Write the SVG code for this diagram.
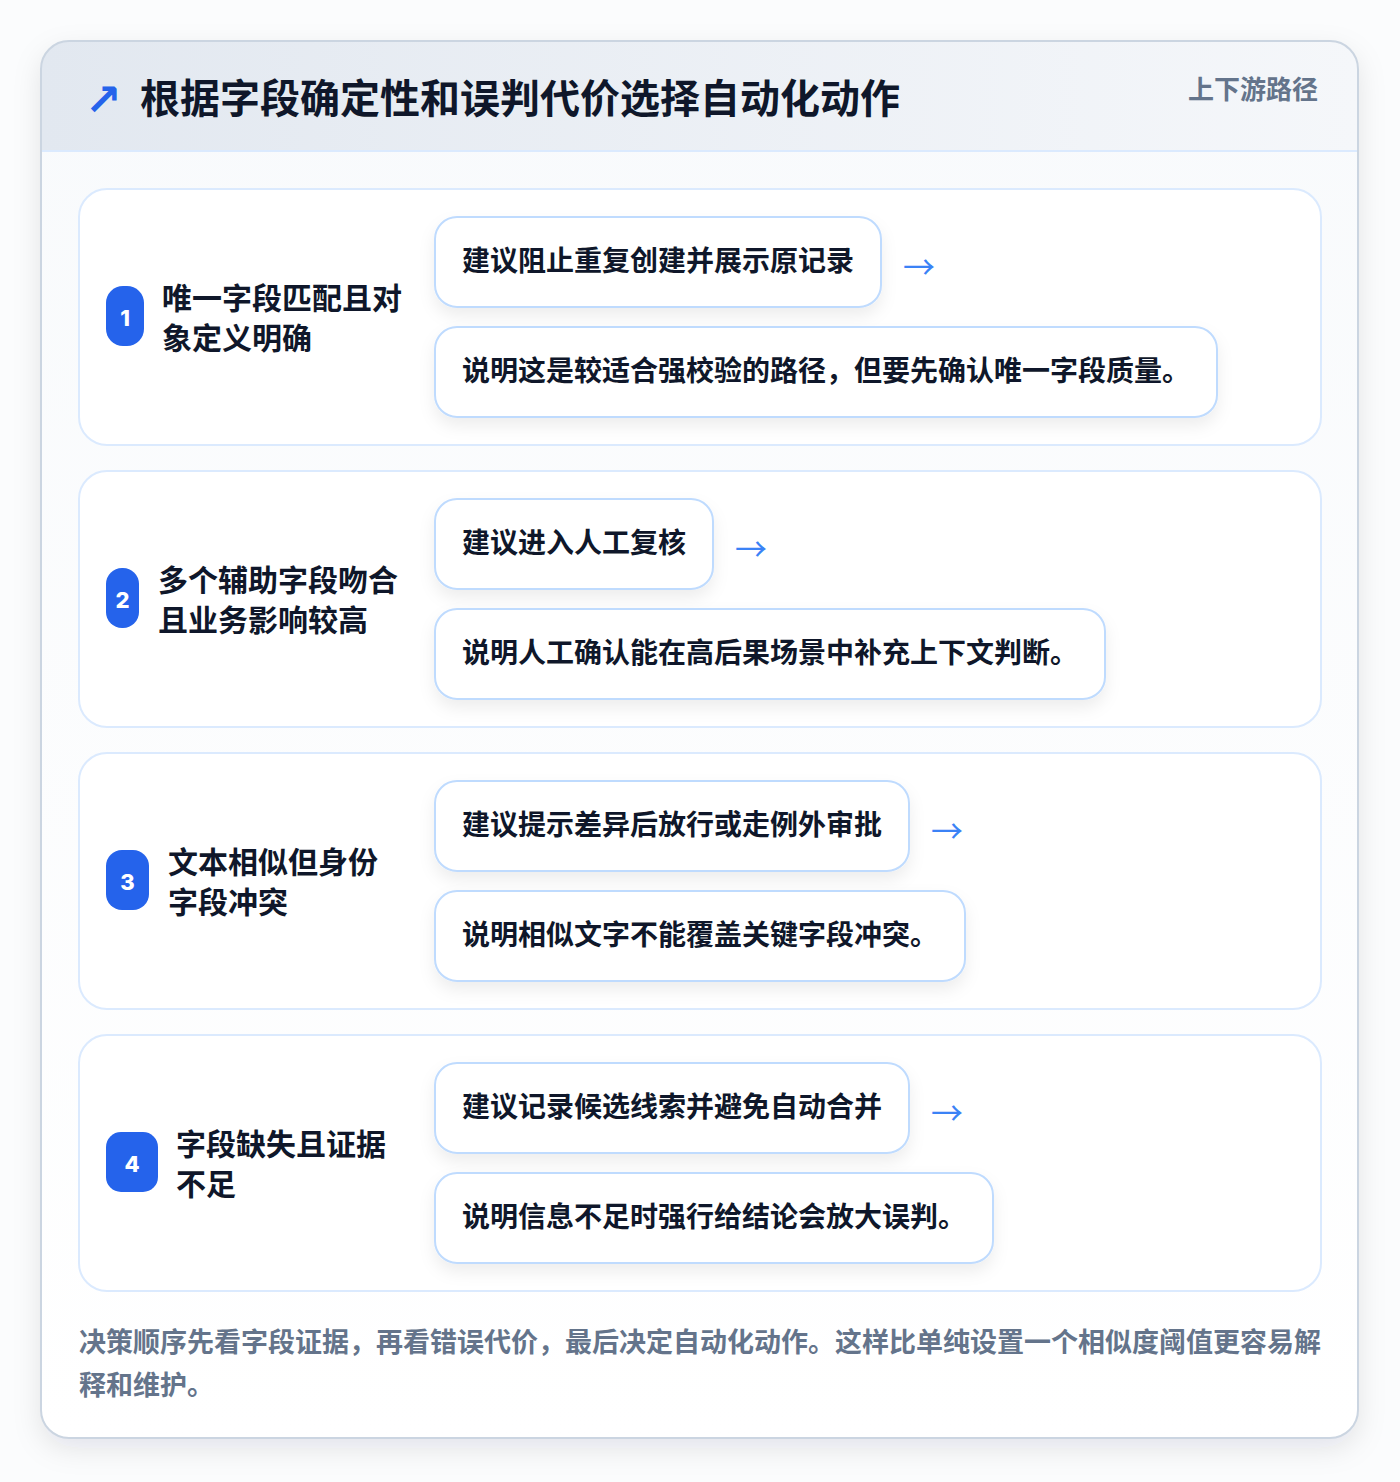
<svg xmlns="http://www.w3.org/2000/svg" width="1400" height="1482" viewBox="0 0 1400 1482">
<defs>
<linearGradient id="hdr" x1="0" y1="0" x2="1" y2="0">
<stop offset="0" stop-color="#e2e8f0"/>
<stop offset="1" stop-color="#f5f7fa"/>
</linearGradient>
<linearGradient id="body" x1="0" y1="0" x2="0" y2="1">
<stop offset="0" stop-color="#f8fafc"/>
<stop offset="1" stop-color="#ffffff"/>
</linearGradient>
<filter id="cardShadow" x="-10%" y="-10%" width="120%" height="120%">
<feDropShadow dx="0" dy="10" stdDeviation="14" flood-color="#0f172a" flood-opacity="0.10"/>
</filter>
<filter id="pillShadow" x="-10%" y="-30%" width="120%" height="170%">
<feDropShadow dx="0" dy="8" stdDeviation="8" flood-color="#0f172a" flood-opacity="0.07"/>
</filter>
<clipPath id="cardClip"><rect x="41" y="41" width="1317" height="1397" rx="28"/></clipPath>
</defs>
<style>
text { font-family: "Noto Sans CJK SC", "Noto Sans", sans-serif; font-weight: 700; }
.title { font-size: 40px; fill: #0f172a; }
.tag { font-size: 26px; fill: #64748b; }
.row { fill: #ffffff; stroke: #dbeafe; stroke-width: 2; }
.badge { fill: #2563eb; }
.num { font-size: 22px; fill: #ffffff; text-anchor: middle; font-family: "Inter", "Noto Sans", sans-serif; font-weight: 800; }
.lbl { font-size: 30px; fill: #0f172a; }
.pill { fill: #ffffff; stroke: #bfdbfe; stroke-width: 2; filter: url(#pillShadow); }
.ptxt { font-size: 28px; fill: #0f172a; }
.arrow { font-size: 32px; fill: #3b82f6; font-weight: 400; }
.foot { font-size: 27px; fill: #64748b; }
</style>
<rect x="0" y="0" width="1400" height="1482" fill="#fbfcfd"/>
<rect x="41" y="41" width="1317" height="1397" rx="28" fill="url(#body)" filter="url(#cardShadow)"/>
<g clip-path="url(#cardClip)">
<rect x="41" y="41" width="1317" height="110" fill="url(#hdr)"/>
<line x1="41" y1="151" x2="1358" y2="151" stroke="#dbeafe" stroke-width="2"/>
</g>
<rect x="41" y="41" width="1317" height="1397" rx="28" fill="none" stroke="#cbd5e1" stroke-width="2"/>
<g id="header">
<text x="85" y="115" font-size="44" fill="#2563eb" style="font-family:'DejaVu Sans',sans-serif;font-weight:700">↗</text>
<text class="title" x="140" y="113">根据字段确定性和误判代价选择自动化动作</text>
<text class="tag" x="1188" y="99">上下游路径</text>
</g>
<g id="row1">
<rect class="row" x="79" y="189" width="1242" height="256" rx="28"/>
<rect class="badge" x="106" y="286" width="38" height="60" rx="17"/>
<text class="num" x="125" y="326">1</text>
<text class="lbl" x="162" y="309">唯一字段匹配且对</text>
<text class="lbl" x="162" y="349">象定义明确</text>
<rect class="pill" x="435" y="217" width="446" height="90" rx="22"/>
<text class="ptxt" x="462" y="271">建议阻止重复创建并展示原记录</text>
<rect class="pill" x="435" y="327" width="782" height="90" rx="22"/>
<text class="ptxt" x="462" y="381">说明这是较适合强校验的路径，但要先确认唯一字段质量。</text>
</g>
<g id="row2">
<rect class="row" x="79" y="471" width="1242" height="256" rx="28"/>
<rect class="badge" x="106" y="568" width="33" height="60" rx="16"/>
<text class="num" x="122.5" y="608">2</text>
<text class="lbl" x="158" y="591">多个辅助字段吻合</text>
<text class="lbl" x="158" y="631">且业务影响较高</text>
<rect class="pill" x="435" y="499" width="278" height="90" rx="22"/>
<text class="ptxt" x="462" y="553">建议进入人工复核</text>
<rect class="pill" x="435" y="609" width="670" height="90" rx="22"/>
<text class="ptxt" x="462" y="663">说明人工确认能在高后果场景中补充上下文判断。</text>
</g>
<g id="row3">
<rect class="row" x="79" y="753" width="1242" height="256" rx="28"/>
<rect class="badge" x="106" y="850" width="43" height="60" rx="16"/>
<text class="num" x="127.5" y="890">3</text>
<text class="lbl" x="168" y="873">文本相似但身份</text>
<text class="lbl" x="168" y="913">字段冲突</text>
<rect class="pill" x="435" y="781" width="474" height="90" rx="22"/>
<text class="ptxt" x="462" y="835">建议提示差异后放行或走例外审批</text>
<rect class="pill" x="435" y="891" width="530" height="90" rx="22"/>
<text class="ptxt" x="462" y="945">说明相似文字不能覆盖关键字段冲突。</text>
</g>
<g id="row4">
<rect class="row" x="79" y="1035" width="1242" height="256" rx="28"/>
<rect class="badge" x="106" y="1132" width="52" height="60" rx="15"/>
<text class="num" x="132" y="1172">4</text>
<text class="lbl" x="176" y="1155">字段缺失且证据</text>
<text class="lbl" x="176" y="1195">不足</text>
<rect class="pill" x="435" y="1063" width="474" height="90" rx="22"/>
<text class="ptxt" x="462" y="1117">建议记录候选线索并避免自动合并</text>
<rect class="pill" x="435" y="1173" width="558" height="90" rx="22"/>
<text class="ptxt" x="462" y="1227">说明信息不足时强行给结论会放大误判。</text>
</g>
<g id="connectors">
<text class="arrow" x="903" y="279">→</text>
<text class="arrow" x="735" y="561">→</text>
<text class="arrow" x="931" y="843">→</text>
<text class="arrow" x="931" y="1125">→</text>
</g>
<g id="footer">
<text class="foot" x="79" y="1352">决策顺序先看字段证据，再看错误代价，最后决定自动化动作。这样比单纯设置一个相似度阈值更容易解</text>
<text class="foot" x="79" y="1395">释和维护。</text>
</g>
</svg>
